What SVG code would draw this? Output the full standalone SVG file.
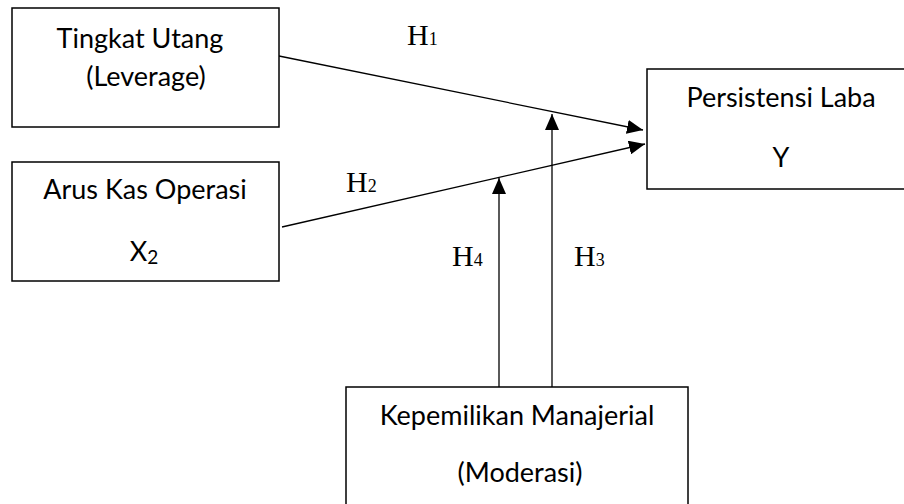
<svg xmlns="http://www.w3.org/2000/svg" width="904" height="504" viewBox="0 0 904 504">
<style>
.box{fill:#fff;stroke:#000;stroke-width:1.5}
.t{font-family:Lato,"Liberation Sans",sans-serif;font-size:27px;fill:#000;text-anchor:middle}
.h{font-family:"Liberation Serif",serif;font-size:30px;fill:#000}
.sub{font-size:18px}
.ln{stroke:#000;stroke-width:1.3;fill:none;marker-end:url(#ah)}
</style>
<defs>
<marker id="ah" markerUnits="userSpaceOnUse" markerWidth="16" markerHeight="14" refX="16" refY="7" orient="auto">
<path d="M0,0 L16,7 L0,14 Z" fill="#000"/>
</marker>
</defs>
<rect width="904" height="504" fill="#fff"/>
<g id="connectors">
<line class="ln" x1="279" y1="56" x2="643" y2="130"/>
<line class="ln" x1="282" y1="227" x2="645" y2="144"/>
<line class="ln" x1="552" y1="387" x2="552" y2="114"/>
<line class="ln" x1="499" y1="387" x2="499" y2="178"/>
</g>
<g id="node-leverage">
<rect class="box" x="12" y="8" width="267" height="119"/>
<text class="t" x="140" y="48">Tingkat Utang</text>
<text class="t" x="146" y="86">(Leverage)</text>
</g>
<g id="node-aruskas">
<rect class="box" x="12" y="162" width="267" height="119"/>
<text class="t" x="145" y="199">Arus Kas Operasi</text>
<text class="t" x="144" y="261">X<tspan font-size="19" dy="3">2</tspan></text>
</g>
<g id="node-persistensi">
<rect class="box" x="647" y="69" width="270" height="120"/>
<text class="t" x="781" y="107">Persistensi Laba</text>
<text class="t" x="781" y="167">Y</text>
</g>
<g id="node-kepemilikan">
<rect class="box" x="346" y="387" width="342" height="130"/>
<text class="t" x="517" y="425">Kepemilikan Manajerial</text>
<text class="t" x="520" y="482">(Moderasi)</text>
</g>
<g id="labels">
<text class="h" x="407" y="45">H<tspan class="sub">1</tspan></text>
<text class="h" x="346" y="192">H<tspan class="sub">2</tspan></text>
<text class="h" x="574" y="266">H<tspan class="sub">3</tspan></text>
<text class="h" x="452" y="266">H<tspan class="sub">4</tspan></text>
</g>
</svg>
